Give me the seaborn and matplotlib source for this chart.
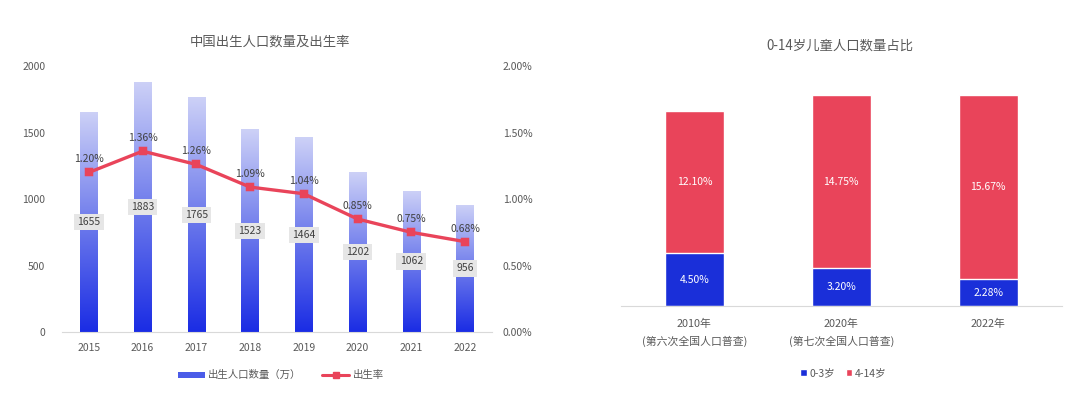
import numpy as np
import pandas as pd
import seaborn as sns
import matplotlib.pyplot as plt
from matplotlib.colors import LinearSegmentedColormap
from matplotlib.patches import Patch
from matplotlib.lines import Line2D

# data
years = ["2015", "2016", "2017", "2018", "2019", "2020", "2021", "2022"]
births = [1655, 1883, 1765, 1523, 1464, 1202, 1062, 956]
birth_rate = [1.20, 1.36, 1.26, 1.09, 1.04, 0.85, 0.75, 0.68]

census = ["2010年\n(第六次全国人口普查)", "2020年\n(第七次全国人口普查)", "2022年"]
age_0_3 = [4.50, 3.20, 2.28]
age_4_14 = [12.10, 14.75, 15.67]

sns.set_style("white")
plt.rcParams['font.family'] = ['Noto Sans CJK SC', 'DejaVu Sans']
plt.rcParams['axes.unicode_minus'] = False

gray = "#595959"
red = "#e9445a"
blue = "#1a2fd9"
grad = LinearSegmentedColormap.from_list("g", ["#1a2ce4", "#6f7cec", "#cdd1f7"])

fig = plt.figure(figsize=(10.8, 3.93), dpi=100)

# ---- left: births + birth rate
ax = fig.add_axes([0.0574, 0.155, 0.398, 0.677])
df = pd.DataFrame({"year": years, "births": births})
sns.barplot(data=df, x="year", y="births", ax=ax, width=0.32, color=blue, zorder=2)
g = np.linspace(0, 1, 256).reshape(-1, 1)
for p in ax.patches:
    x0, y0 = p.get_x(), p.get_y()
    w, h = p.get_width(), p.get_height()
    im = ax.imshow(g, cmap=grad, origin="lower", aspect="auto",
                   extent=[x0, x0 + w, y0, y0 + h], zorder=2)
    im.set_clip_path(p)
    p.set_facecolor("none")
    p.set_edgecolor("none")
for i, v in enumerate(births):
    ax.text(i, v / 2, str(v), ha="center", va="center", fontsize=7.5, color="#404040", zorder=5,
            bbox=dict(boxstyle="square,pad=0.3", fc="#e6e6e6", ec="none"))
ax.set_xlim(-0.5, 7.5)
ax.set_ylim(0, 2000)
ax.set_yticks([0, 500, 1000, 1500, 2000])
ax.set_xlabel("")
ax.set_ylabel("")
for s in ["top", "left", "right"]:
    ax.spines[s].set_visible(False)
ax.spines["bottom"].set_color("#d9d9d9")
ax.tick_params(axis="both", length=0, labelsize=7.5, colors=gray)
ax.tick_params(axis="y", pad=12)
ax.tick_params(axis="x", pad=8)

ax2 = ax.twinx()
sns.pointplot(x=years, y=birth_rate, ax=ax2, color=red, markers="s", errorbar=None,
              markersize=4, linewidth=2.4, zorder=4)
for i, v in enumerate(birth_rate):
    ax2.text(i, v + 0.06, f"{v:.2f}%", ha="center", va="bottom", fontsize=7.5, color="#404040", zorder=6)
ax2.set_xlim(-0.5, 7.5)
ax2.set_ylim(0, 2.0)
ax2.set_yticks([0, 0.5, 1.0, 1.5, 2.0])
ax2.set_yticklabels([f"{t:.2f}%" for t in [0, 0.5, 1.0, 1.5, 2.0]])
for s in ["top", "left", "right", "bottom"]:
    ax2.spines[s].set_visible(False)
ax2.tick_params(axis="both", length=0, labelsize=7.5, colors=gray, pad=8)
fig.text(0.25, 0.893, "中国出生人口数量及出生率", ha="center", va="center", fontsize=9.6, color=gray)

h1 = Patch(facecolor="#4b5ce8", edgecolor="none")
h2 = Line2D([], [], color=red, marker="s", markersize=4, lw=2.2)
fig.legend([h1, h2], ["出生人口数量（万）", "出生率"], loc="center", bbox_to_anchor=(0.26, 0.045),
           ncol=2, frameon=False, fontsize=7.5, handlelength=2.6, handleheight=0.5,
           columnspacing=2.0, handletextpad=0.3, labelcolor=gray)

# ---- right: 0-14 share stacked
bx = fig.add_axes([0.575, 0.221, 0.408, 0.611])
sdf = pd.DataFrame({"census": census, "a": age_0_3, "b": age_4_14})
sdf["total"] = sdf["a"] + sdf["b"]
sns.barplot(data=sdf, x="census", y="total", ax=bx, color=red, width=0.4, saturation=1)
sns.barplot(data=sdf, x="census", y="a", ax=bx, color=blue, width=0.4, saturation=1)
for i in range(len(census)):
    bx.text(i, age_0_3[i] / 2, f"{age_0_3[i]:.2f}%", ha="center", va="center", fontsize=7.5, color="white")
    bx.text(i, age_0_3[i] + age_4_14[i] / 2, f"{age_4_14[i]:.2f}%", ha="center", va="center",
            fontsize=7.5, color="white")
bx.set_xlim(-0.5, 2.5)
bx.set_ylim(0, 20.4)
bx.set_yticks([])
bx.set_xlabel("")
bx.set_ylabel("")
for s in ["top", "left", "right"]:
    bx.spines[s].set_visible(False)
bx.spines["bottom"].set_color("#d9d9d9")
bx.tick_params(axis="x", length=0, labelsize=7.8, colors=gray, pad=9)
for t in bx.get_xticklabels():
    t.set_linespacing(1.7)
fig.text(0.778, 0.885, "0-14岁儿童人口数量占比", ha="center", va="center", fontsize=9.6, color=gray)
fig.legend([Patch(facecolor=blue), Patch(facecolor=red)], ["0-3岁", "4-14岁"], loc="center",
           bbox_to_anchor=(0.781, 0.05), ncol=2, frameon=False, fontsize=7.5, handlelength=0.6,
           handleheight=0.6, columnspacing=1.0, handletextpad=0.3, labelcolor=gray)

fig.savefig("out.png", dpi=100)
